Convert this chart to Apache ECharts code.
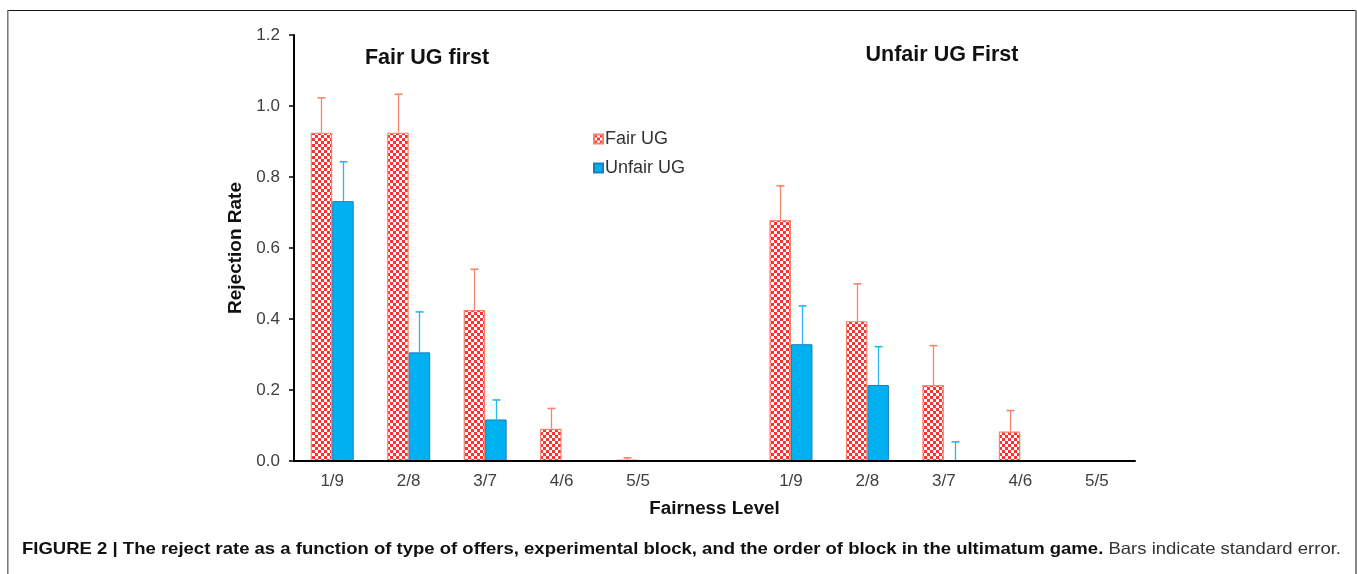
<!DOCTYPE html>
<html>
<head>
<meta charset="utf-8">
<script src="https://cdn.jsdelivr.net/npm/echarts@6/dist/echarts.min.js"></script>
<style>
  html, body { margin: 0; padding: 0; background: #fff; }
  #chart { width: 1357px; height: 574px; }
</style>
</head>
<body>
<div id="chart"></div>
<script>
// Fairness levels for the two block orders; the blank slot separates the groups
const categories = ['1/9', '2/8', '3/7', '4/6', '5/5', '', '1/9', '2/8', '3/7', '4/6', '5/5'];
const fairUG     = [0.925, 0.925, 0.425, 0.091, 0.004, null, 0.679, 0.394, 0.214, 0.083, 0];
const fairErr    = [0.098, 0.108, 0.115, 0.057, 0.005, null, 0.096, 0.105, 0.111, 0.059, null];
const unfairUG   = [0.732, 0.306, 0.117, 0, 0, null, 0.329, 0.214, 0, 0, 0];
const unfairErr  = [0.111, 0.114, 0.055, null, null, null, 0.108, 0.108, 0.054, null, null];
const groupTitles = ['Fair UG first', 'Unfair UG First'];
const seriesNames = ['Fair UG', 'Unfair UG'];
const captionBold = 'FIGURE 2 | The reject rate as a function of type of offers, experimental block, and the order of block in the ultimatum game.';
const captionNormal = ' Bars indicate standard error.';

const FONT = '"Liberation Sans", Arial, Helvetica, sans-serif';
const BAR_W = 21.5;

// red/white checkerboard fill for the Fair UG bars
const pc = document.createElement('canvas');
pc.width = 6; pc.height = 6;
const pg = pc.getContext('2d');
pg.fillStyle = '#ffffff'; pg.fillRect(0, 0, 6, 6);
pg.fillStyle = '#ff3030';
pg.fillRect(0, 0, 3, 3); pg.fillRect(3, 3, 3, 3);
const checker = { image: pc, repeat: 'repeat' };

// one-sided standard-error whiskers drawn above each bar
function errorSeries(values, errs, offset, color) {
  const data = [];
  values.forEach((v, i) => { if (errs[i] != null) data.push([i, v, errs[i]]); });
  return {
    type: 'custom',
    silent: true,
    z: 4,
    data: data,
    encode: { x: 0, y: 1 },
    renderItem: function (params, api) {
      const i = api.value(0), v = api.value(1), e = api.value(2);
      const base = api.coord([i, v]);
      const top = api.coord([i, v + e]);
      const x = Math.round(base[0] + offset) + 0.5;
      return {
        type: 'group',
        children: [
          { type: 'line', shape: { x1: x, y1: base[1], x2: x, y2: top[1] }, style: { stroke: color, lineWidth: 1.3 } },
          { type: 'line', shape: { x1: x - 4, y1: top[1], x2: x + 4, y2: top[1] }, style: { stroke: color, lineWidth: 1.6 } }
        ]
      };
    }
  };
}

// caption width measured so it spans the figure frame
const mc = document.createElement('canvas').getContext('2d');
const CAP_SIZE = 16.5;
mc.font = 'bold ' + CAP_SIZE + 'px ' + FONT;
const wBold = mc.measureText(captionBold).width;
mc.font = CAP_SIZE + 'px ' + FONT;
const wNorm = mc.measureText(captionNormal).width;
const capScale = 1319 / (wBold + wNorm);

const chart = echarts.init(document.getElementById('chart'), null, { renderer: 'canvas' });
chart.setOption({
  animation: false,
  backgroundColor: '#ffffff',
  grid: { left: 294, right: 222, top: 35, bottom: 113, containLabel: false },
  legend: {
    data: seriesNames,
    orient: 'vertical',
    left: 588,
    top: 125,
    itemWidth: 9,
    itemHeight: 9,
    itemGap: 11,
    icon: 'rect',
    textStyle: { fontSize: 18, color: '#333', fontFamily: FONT, padding: [0, 0, 0, -3] }
  },
  xAxis: {
    type: 'category',
    data: categories,
    z: 5,
    axisLine: { show: true, lineStyle: { color: '#000', width: 2 } },
    axisTick: { show: false },
    axisLabel: { fontSize: 17, color: '#404040', fontFamily: FONT, margin: 12, interval: 0 },
    name: 'Fairness Level',
    nameLocation: 'middle',
    nameGap: 38,
    nameTextStyle: { fontSize: 18.8, fontWeight: 'bold', color: '#111', fontFamily: FONT }
  },
  yAxis: {
    type: 'value',
    min: 0,
    max: 1.2,
    interval: 0.2,
    axisLine: { show: true, lineStyle: { color: '#000', width: 2 } },
    axisTick: { show: true, length: 5, lineStyle: { color: '#000', width: 1.5 } },
    splitLine: { show: false },
    axisLabel: { fontSize: 17, color: '#404040', fontFamily: FONT, margin: 14, formatter: v => v.toFixed(1) },
    name: 'Rejection Rate',
    nameLocation: 'middle',
    nameGap: 45,
    nameTextStyle: { fontSize: 19, fontWeight: 'bold', color: '#111', fontFamily: FONT }
  },
  series: [
    {
      name: seriesNames[0],
      type: 'bar',
      data: fairUG,
      barWidth: BAR_W,
      barGap: '0%',
      itemStyle: { color: checker, borderColor: '#f5846a', borderWidth: 1.2 }
    },
    {
      name: seriesNames[1],
      type: 'bar',
      data: unfairUG,
      barWidth: BAR_W,
      barGap: '0%',
      itemStyle: { color: '#00b0f0', borderColor: '#1a7fc2', borderWidth: 1 }
    },
    errorSeries(fairUG, fairErr, -BAR_W / 2, '#f5846a'),
    errorSeries(unfairUG, unfairErr, BAR_W / 2, '#2cb4ee')
  ],
  graphic: [
    // figure frame
    { type: 'line', silent: true, shape: { x1: 7.5, y1: 10.5, x2: 1356, y2: 10.5 }, style: { stroke: '#111', lineWidth: 1.2 } },
    { type: 'line', silent: true, shape: { x1: 7.8, y1: 10, x2: 7.8, y2: 574 }, style: { stroke: '#777', lineWidth: 1.5 } },
    { type: 'line', silent: true, shape: { x1: 1356, y1: 10, x2: 1356, y2: 574 }, style: { stroke: '#888', lineWidth: 2 } },
    // group titles
    { type: 'text', silent: true, x: 427, y: 58,
      style: { text: groupTitles[0], fontSize: 21.5, fontWeight: 'bold', fontFamily: FONT, fill: '#111',
               align: 'center', verticalAlign: 'middle', textAlign: 'center', textVerticalAlign: 'middle' } },
    { type: 'text', silent: true, x: 942, y: 55,
      style: { text: groupTitles[1], fontSize: 21.5, fontWeight: 'bold', fontFamily: FONT, fill: '#111',
               align: 'center', verticalAlign: 'middle', textAlign: 'center', textVerticalAlign: 'middle' } },
    // caption
    { type: 'group', x: 22, y: 549, scaleX: capScale, silent: true,
      children: [
        { type: 'text', x: 0, y: 0,
          style: { text: captionBold, fontSize: CAP_SIZE, fontWeight: 'bold', fontFamily: FONT, fill: '#111',
                   align: 'left', verticalAlign: 'middle', textAlign: 'left', textVerticalAlign: 'middle' } },
        { type: 'text', x: wBold, y: 0,
          style: { text: captionNormal, fontSize: CAP_SIZE, fontFamily: FONT, fill: '#333',
                   align: 'left', verticalAlign: 'middle', textAlign: 'left', textVerticalAlign: 'middle' } }
      ] }
  ]
});
</script>
</body>
</html>
